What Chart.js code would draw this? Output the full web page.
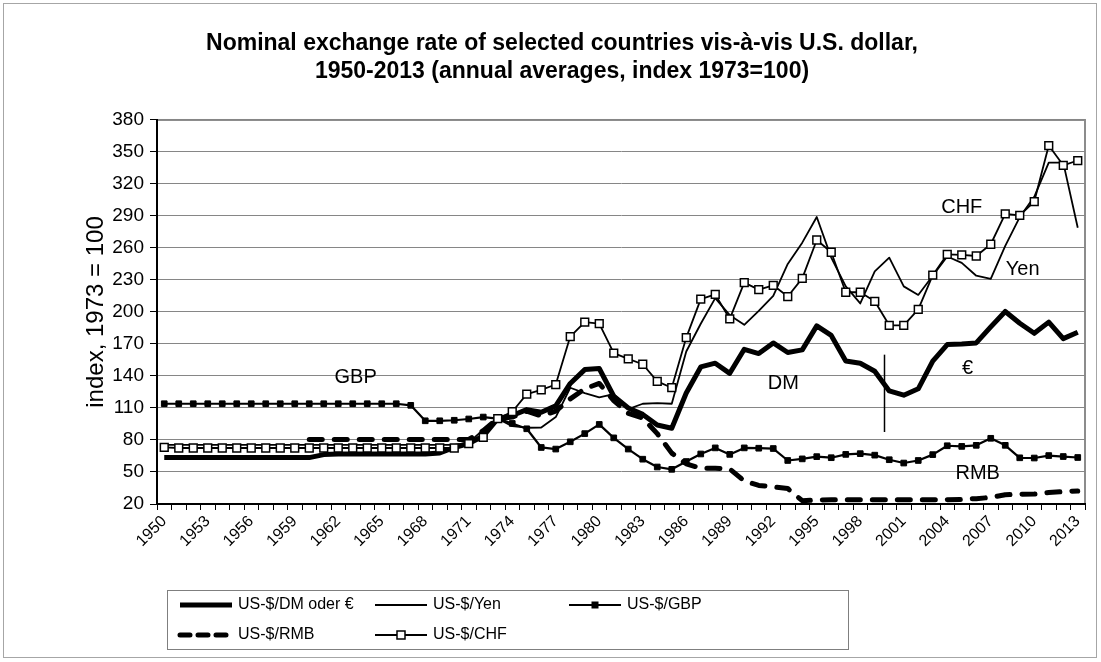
<!DOCTYPE html>
<html><head><meta charset="utf-8">
<script src="https://cdn.jsdelivr.net/npm/chart.js@4/dist/chart.umd.min.js"></script>
<style>html,body{margin:0;padding:0;background:#fff}canvas{display:block}</style>
</head><body>
<canvas id="c" width="1101" height="662"></canvas>
<script>
const years = ['1950','1951','1952','1953','1954','1955','1956','1957','1958','1959',
  '1960','1961','1962','1963','1964','1965','1966','1967','1968','1969',
  '1970','1971','1972','1973','1974','1975','1976','1977','1978','1979',
  '1980','1981','1982','1983','1984','1985','1986','1987','1988','1989',
  '1990','1991','1992','1993','1994','1995','1996','1997','1998','1999',
  '2000','2001','2002','2003','2004','2005','2006','2007','2008','2009',
  '2010','2011','2012','2013'];
const tickYears = ['1950','1953','1956','1959','1962','1965','1968','1971','1974','1977','1980',
  '1983','1986','1989','1992','1995','1998','2001','2004','2007','2010','2013'];

const dmEuro = [63.5,63.5,63.5,63.5,63.5,63.5,63.5,63.5,63.5,63.5,
  63.5,66.3,66.8,66.8,66.8,66.8,66.8,66.8,66.8,67.8,
  73,76.7,83.7,100,103,108.5,106,112,133,146,
  147,121,110,104,94,91,124,148.5,152,142.5,
  165,161,171,162,164.5,187,178,154,152,144.5,
  126,122,128,154,169.5,170,171,186,200.5,189.5,
  180,190.5,175,181];
const yen = [75.5,75.5,75.5,75.5,75.5,75.5,75.5,75.5,75.5,75.5,
  75.5,75.5,75.5,75.5,75.5,75.5,75.5,75.5,75.5,75.5,
  75.5,77.6,89.7,100,93,91.5,91.7,101.5,129,124,
  120,123,109,114,114.5,114,163,189,213,197,
  188,201,215,245,265,289,251,224,208,238,
  251,224,216,234,252,246,234,231,262,289,
  308,340,340,279];
const gbp = [114,114,114,114,114,114,114,114,114,114,
  114,114,114,114,114,114,114,112.5,98,98,
  98.5,99.7,101.5,100,95.5,90.5,73,71.5,78.3,86,
  94.6,82,71.5,62,54.7,52.5,59.8,66.9,72.6,66.5,
  72.6,72.3,72,60.8,62.3,64.4,63.4,66.5,67.2,65.8,
  61.5,58.4,60.8,66.3,74.6,74,75,81.6,75,63.3,
  63.1,65.4,64.5,63.6];
const rmb = [null,null,null,null,null,null,null,null,null,null,
  80.5,80.5,80.5,80.5,80.5,80.5,80.5,80.5,80.5,80.5,
  80.5,80.5,88.8,100,101.5,107,102.6,107,118.5,128,
  133,117,105,100.5,86,67.7,57.7,53.5,53.5,52.8,
  41.6,37.4,36.1,34.5,23.1,23.8,23.9,24,24,24,
  24,24,24,24,24,24.3,25,26.2,28.7,29.2,
  29.4,30.8,31.6,32.2];
const chf = [73,72.5,72.5,72.5,72.5,72.5,72.5,72.5,72.5,72.5,
  72.5,72.5,72.5,72.5,72.5,72.5,72.5,72.5,72.5,72.5,
  72.5,76.5,82.5,100,106.5,123,127,132,177,190.5,
  189,161.5,156,151,135,129,176,212,216.5,193.5,
  227.5,221,225,214.5,231.5,267.5,256,218.5,218.5,210,
  187.5,187.5,202.5,234.5,254,253.5,252.5,263.5,292,290.5,
  303.5,356,337.5,342];

const seriesNames = ['US-$/DM oder €','US-$/Yen','US-$/GBP','US-$/RMB','US-$/CHF'];
const tagTexts = ['GBP','DM','€','RMB','CHF','Yen'];
const titleLines = ['Nominal exchange rate of selected countries vis-à-vis U.S. dollar,',
  '1950-2013 (annual averages, index 1973=100)'];
const yAxisTitle = 'index, 1973 = 100';

const FONT = "'Liberation Sans', Arial, sans-serif";
Chart.defaults.font.family = FONT;
Chart.defaults.color = '#000';

const framePlugin = {
  id: 'frame',
  beforeDraw(chart) {
    const {ctx, chartArea: a} = chart;
    ctx.save();
    ctx.fillStyle = '#fff';
    ctx.fillRect(0, 0, chart.width, chart.height);
    ctx.strokeStyle = '#a6a6a6'; ctx.lineWidth = 1;
    ctx.strokeRect(3.5, 3.5, chart.width - 8, chart.height - 8);
    ctx.strokeStyle = '#8c8c8c'; ctx.lineWidth = 2;
    ctx.strokeRect(a.left, a.top, a.right - a.left, a.bottom - a.top);
    ctx.restore();
  }
};

const tagPlugin = {
  id: 'tags',
  afterDatasetsDraw(chart, args, opts) {
    const {ctx, scales: {x, y}} = chart;
    const first = Number(years[0]);
    ctx.save();
    const d = opts.divider;
    const dx = Math.round(x.getPixelForValue(d.year - first)) + 0.5;
    ctx.strokeStyle = '#000'; ctx.lineWidth = 1.5;
    ctx.beginPath();
    ctx.moveTo(dx, y.getPixelForValue(d.from));
    ctx.lineTo(dx, y.getPixelForValue(d.to));
    ctx.stroke();
    ctx.font = opts.fontSize + 'px ' + FONT;
    ctx.fillStyle = '#000';
    ctx.textAlign = 'center'; ctx.textBaseline = 'middle';
    opts.places.forEach((p, i) => {
      ctx.fillText(tagTexts[i], x.getPixelForValue(p[0] - first), y.getPixelForValue(p[1]));
    });
    ctx.restore();
  }
};

const legendPlugin = {
  id: 'boxLegend',
  afterDraw(chart, args, o) {
    const {ctx} = chart;
    ctx.save();
    ctx.strokeStyle = '#7f7f7f'; ctx.lineWidth = 1;
    ctx.strokeRect(o.box[0] + 0.5, o.box[1] + 0.5, o.box[2], o.box[3]);
    ctx.font = o.fontSize + 'px ' + FONT;
    ctx.textBaseline = 'middle'; ctx.textAlign = 'left';
    chart.data.datasets.forEach((ds, i) => {
      const col = i % 3, row = Math.floor(i / 3);
      const sx = o.cols[col], sy = o.rows[row];
      ctx.strokeStyle = '#000';
      ctx.lineWidth = ds.borderWidth;
      ctx.lineCap = ds.borderCapStyle || 'butt';
      ctx.setLineDash(ds.legendDash || []);
      ctx.beginPath(); ctx.moveTo(sx, sy); ctx.lineTo(sx + o.sample, sy); ctx.stroke();
      ctx.setLineDash([]); ctx.lineCap = 'butt';
      if (ds.pointRadius > 0) {
        const s = ds.legendMarker;
        ctx.fillStyle = ds.pointBackgroundColor;
        ctx.fillRect(sx + o.sample / 2 - s / 2, sy - s / 2, s, s);
        ctx.lineWidth = ds.pointBorderWidth;
        ctx.strokeRect(sx + o.sample / 2 - s / 2, sy - s / 2, s, s);
      }
      ctx.fillStyle = '#000';
      ctx.fillText(ds.label, sx + o.sample + 6, sy);
    });
    ctx.restore();
  }
};

const base = {fill: false, tension: 0, borderColor: '#000', borderJoinStyle: 'round', pointRadius: 0, pointHoverRadius: 0};
new Chart(document.getElementById('c'), {
  type: 'line',
  data: {
    labels: years,
    datasets: [
      Object.assign({}, base, {label: seriesNames[0], data: dmEuro, borderWidth: 5, order: 4}),
      Object.assign({}, base, {label: seriesNames[1], data: yen, borderWidth: 1.8, order: 3}),
      Object.assign({}, base, {label: seriesNames[2], data: gbp, borderWidth: 2.2, order: 2,
        pointStyle: 'rect', pointRadius: 4, pointBackgroundColor: '#000', pointBorderColor: '#000', pointBorderWidth: 1, legendMarker: 6}),
      Object.assign({}, base, {label: seriesNames[3], data: rmb, borderWidth: 5, order: 1,
        borderDash: [13, 12], borderCapStyle: 'round', legendDash: [10, 8], spanGaps: false}),
      Object.assign({}, base, {label: seriesNames[4], data: chf, borderWidth: 1.8, order: 0,
        pointStyle: 'rect', pointRadius: 5.5, pointBackgroundColor: '#fff', pointBorderColor: '#000', pointBorderWidth: 1.5, legendMarker: 8})
    ]
  },
  options: {
    responsive: false, animation: false, devicePixelRatio: 1,
    layout: {padding: {left: 39, right: 16, top: 0, bottom: 100}},
    plugins: {
      legend: {display: false}, tooltip: {enabled: false},
      title: {display: true, text: titleLines, color: '#000',
        font: {family: FONT, size: 23, weight: 'bold', lineHeight: 1.217}, padding: {top: 30, bottom: 34}},
      tags: {fontSize: 20, divider: {year: 1999.64, from: 87.5, to: 160},
        places: [[1963.2, 139], [1992.7, 133.4], [2005.4, 147.5], [2006.1, 49], [2005, 298.4], [2009.2, 239.4]]},
      boxLegend: {box: [167, 590, 681, 59], cols: [180, 375, 569], rows: [605, 635], sample: 52, fontSize: 16}
    },
    scales: {
      x: {
        type: 'category', offset: true,
        grid: {offset: true, drawOnChartArea: false, drawTicks: true, tickLength: 6, tickColor: '#000'},
        border: {color: '#000', width: 2},
        ticks: {autoSkip: false, maxRotation: 45, minRotation: 45, color: '#000', padding: 2,
          font: {family: FONT, size: 16},
          callback: function (v) { const l = this.getLabelForValue(v); return tickYears.includes(l) ? l : ''; }},
        afterFit: (s) => { s.height = 58; }
      },
      y: {
        min: 20, max: 380,
        ticks: {stepSize: 30, color: '#000', padding: 6, font: {family: FONT, size: 19}},
        grid: {color: '#868686', lineWidth: 1, tickLength: 7, tickColor: '#000'},
        border: {color: '#000', width: 2},
        title: {display: true, text: yAxisTitle, color: '#000', font: {family: FONT, size: 24}, padding: {top: 43, bottom: 0}},
        afterFit: (s) => { s.width = 118; }
      }
    }
  },
  plugins: [framePlugin, tagPlugin, legendPlugin]
});
</script>
</body></html>
